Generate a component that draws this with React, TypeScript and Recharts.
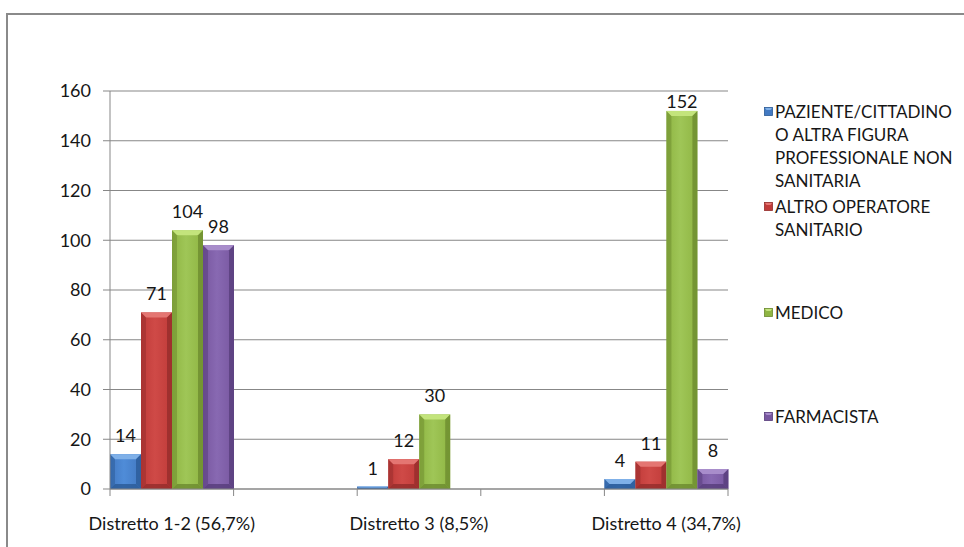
import React from 'react';
import { BarChart, Bar, XAxis, YAxis, CartesianGrid, Legend, LabelList } from 'recharts';

const categories = ['Distretto 1-2 (56,7%)', ' ', 'Distretto 3 (8,5%)', '  ', 'Distretto 4 (34,7%)'];
const paziente = [14, null, 1, null, 4];
const altro = [71, null, 12, null, 11];
const medico = [104, null, 30, null, 152];
const farmacista = [98, null, null, null, 8];
const yTicks = [0, 20, 40, 60, 80, 100, 120, 140, 160];

const seriesNames = [
  'PAZIENTE/CITTADINO O ALTRA FIGURA PROFESSIONALE NON SANITARIA',
  'ALTRO OPERATORE SANITARIO',
  'MEDICO',
  'FARMACISTA',
];
const legendLines: string[][] = [
  ['PAZIENTE/CITTADINO', 'O ALTRA FIGURA', 'PROFESSIONALE NON', 'SANITARIA'],
  ['ALTRO OPERATORE', 'SANITARIO'],
  ['MEDICO'],
  ['FARMACISTA'],
];

const data = categories.map((c, i) => ({
  name: c,
  paziente: paziente[i],
  altro: altro[i],
  medico: medico[i],
  farmacista: farmacista[i],
}));

const W = 964;
const H = 547;
const PLOT_LEFT = 110;
const PLOT_RIGHT = 728;
const PLOT_TOP = 91;
const PLOT_BOTTOM = 489;
const BAND = (PLOT_RIGHT - PLOT_LEFT) / categories.length;
const FONT = 'Lato, "Open Sans", sans-serif';
const FS = 18;
const TEXT = '#161616';
const AXIS = '#878787';

const palette = [
  { key: 'paziente', base: '#4279C2', light: '#7FB0E8', dark: '#2A5A96', mid: '#4F8CD8' },
  { key: 'altro', base: '#C03B39', light: '#E47672', dark: '#932C2B', mid: '#CF4A47' },
  { key: 'medico', base: '#8FB543', light: '#C3E47C', dark: '#6B8A2E', mid: '#9FC657' },
  { key: 'farmacista', base: '#7857A0', light: '#A88DCB', dark: '#563C7A', mid: '#8869B2' },
];

const makeBevel = (idx: number) => (props: any) => {
  const { x, y, width, height } = props;
  if (height == null || height <= 0 || width <= 0) return null;
  const c = palette[idx];
  const b = Math.min(5, height / 2, width / 2);
  const x2 = x + width;
  const y2 = y + height;
  return (
    <g>
      <rect x={x} y={y} width={width} height={height} fill={`url(#body-${c.key})`} />
      <polygon points={`${x},${y} ${x2},${y} ${x2 - b},${y + b} ${x + b},${y + b}`} fill={c.light} />
      <polygon points={`${x},${y} ${x + b},${y + b} ${x + b},${y2 - b} ${x},${y2}`} fill={c.dark} opacity={0.5} />
      <polygon points={`${x2},${y} ${x2 - b},${y + b} ${x2 - b},${y2 - b} ${x2},${y2}`} fill={c.dark} opacity={0.75} />
      <polygon points={`${x},${y2} ${x + b},${y2 - b} ${x2 - b},${y2 - b} ${x2},${y2}`} fill={c.dark} opacity={0.8} />
    </g>
  );
};

const ValueLabel = (props: any) => {
  const { x, y, width, value } = props;
  if (value == null) return null;
  const cy = Math.max(y - 19, PLOT_TOP + 10);
  return (
    <text x={x + width / 2} y={cy} textAnchor="middle" dominantBaseline="central" fontFamily={FONT} fontSize={FS} fill={TEXT}>
      {value}
    </text>
  );
};

const XTick = (props: any) => {
  const { x, y, payload, index } = props;
  const lx = x - BAND / 2;
  return (
    <g>
      <line x1={lx} x2={lx} y1={y} y2={y + 7} stroke={AXIS} />
      {index === categories.length - 1 && <line x1={x + BAND / 2} x2={x + BAND / 2} y1={y} y2={y + 7} stroke={AXIS} />}
      <text x={x} y={y + 34} textAnchor="middle" dominantBaseline="central" fontFamily={FONT} fontSize={FS} fill={TEXT}>
        {String(payload.value).trim()}
      </text>
    </g>
  );
};

const legendTops = [0, 95, 201, 305];

const LegendContent = (props: any) => {
  const payload = props.payload || [];
  return (
    <div style={{ position: 'relative', width: 206, height: 340, fontFamily: FONT, fontSize: FS - 1, color: TEXT }}>
      {payload.map((p: any, i: number) => (
        <div key={i} style={{ position: 'absolute', left: 0, top: legendTops[i], display: 'flex', alignItems: 'flex-start' }}>
          <svg width={9} height={23} style={{ flex: 'none' }}>
            <rect x={0.5} y={7.5} width={8} height={8} fill={palette[i].base} stroke={palette[i].dark} strokeWidth={0.8} />
            <polygon points="1,8 8,8 6.5,10 2.5,10" fill={palette[i].light} />
          </svg>
          <div style={{ marginLeft: 2, lineHeight: '23px', whiteSpace: 'nowrap' }}>
            {legendLines[i].map((l, j) => (
              <div key={j}>{l}</div>
            ))}
          </div>
        </div>
      ))}
    </div>
  );
};

export default function App() {
  return (
    <div style={{ position: 'absolute', left: 0, top: 0, width: W, height: H, background: '#fff', overflow: 'hidden' }}>
      <div style={{ position: 'absolute', left: 6, top: 13, width: 2000, height: 2000, borderLeft: '2px solid #8a8a8a', borderTop: '2px solid #8a8a8a' }} />
      <div style={{ position: 'absolute', left: 0, top: 0 }}>
        <BarChart
          width={W}
          height={H}
          data={data}
          margin={{ top: PLOT_TOP, right: W - PLOT_RIGHT, bottom: H - PLOT_BOTTOM - 50, left: 0 }}
          barCategoryGap={0}
          barGap={0}
        >
          <defs>
            {palette.map((c) => (
              <linearGradient key={c.key} id={`body-${c.key}`} x1="0" y1="0" x2="1" y2="0">
                <stop offset="0%" stopColor={c.base} />
                <stop offset="45%" stopColor={c.mid} />
                <stop offset="100%" stopColor={c.base} />
              </linearGradient>
            ))}
          </defs>
          <CartesianGrid horizontal vertical={false} stroke={AXIS} strokeWidth={1} />
          <XAxis
            dataKey="name"
            height={50}
            interval={0}
            tickSize={0}
            tickMargin={0}
            tick={<XTick />}
            axisLine={{ stroke: AXIS }}
            tickLine={false}
          />
          <YAxis
            width={PLOT_LEFT}
            domain={[0, 160]}
            ticks={yTicks}
            interval={0}
            tickSize={7}
            tickMargin={12}
            axisLine={{ stroke: AXIS }}
            tickLine={{ stroke: AXIS }}
            tick={{ fontFamily: FONT, fontSize: FS, fill: TEXT }}
          />
          <Legend
            layout="vertical"
            align="center"
            verticalAlign="middle"
            content={<LegendContent />}
            wrapperStyle={{ position: 'absolute', left: 764, top: 100, width: 206, height: 340 }}
          />
          <Bar dataKey="paziente" name={seriesNames[0]} fill={palette[0].base} shape={makeBevel(0)} isAnimationActive={false}>
            <LabelList dataKey="paziente" content={<ValueLabel />} />
          </Bar>
          <Bar dataKey="altro" name={seriesNames[1]} fill={palette[1].base} shape={makeBevel(1)} isAnimationActive={false}>
            <LabelList dataKey="altro" content={<ValueLabel />} />
          </Bar>
          <Bar dataKey="medico" name={seriesNames[2]} fill={palette[2].base} shape={makeBevel(2)} isAnimationActive={false}>
            <LabelList dataKey="medico" content={<ValueLabel />} />
          </Bar>
          <Bar dataKey="farmacista" name={seriesNames[3]} fill={palette[3].base} shape={makeBevel(3)} isAnimationActive={false}>
            <LabelList dataKey="farmacista" content={<ValueLabel />} />
          </Bar>
        </BarChart>
      </div>
    </div>
  );
}
